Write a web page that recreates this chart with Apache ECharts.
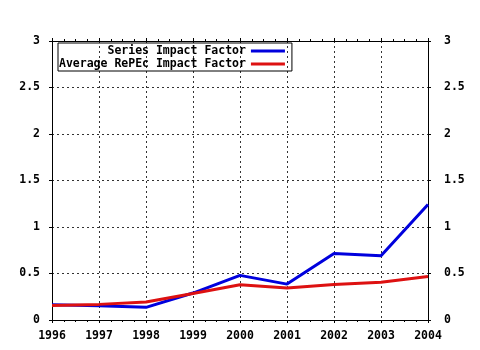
<!DOCTYPE html>
<html>
<head>
<meta charset="utf-8">
<script src="https://cdn.jsdelivr.net/npm/echarts@6/dist/echarts.min.js"></script>
<style>html,body{margin:0;padding:0;background:#fff;}#c{width:480px;height:350px;}</style>
</head>
<body>
<div id="c"></div>
<script>
var years = [1996, 1997, 1998, 1999, 2000, 2001, 2002, 2003, 2004];
var seriesImpact = [0.164, 0.153, 0.136, 0.29, 0.48, 0.386, 0.714, 0.69, 1.243];
var averageImpact = [0.157, 0.168, 0.193, 0.286, 0.379, 0.343, 0.382, 0.407, 0.468];
var seriesNames = ['Series Impact Factor', 'Average RePEc Impact Factor'];
var yTicks = [0, 0.5, 1, 1.5, 2, 2.5, 3];

var FONT = 'DejaVu Sans Mono';
var labelStyle = {fontFamily: FONT, fontWeight: 'bold', fontSize: 11.5, color: '#000'};
function pairs(vals) { return years.map(function (y, i) { return [y, vals[i]]; }); }

var chart = echarts.init(document.getElementById('c'), null, {renderer: 'canvas'});
var yCommon = {
  type: 'value', min: yTicks[0], max: yTicks[yTicks.length - 1], interval: 0.5,
  axisLine: {show: true, lineStyle: {color: '#000', width: 1}},
  axisTick: {show: true, length: 3, lineStyle: {color: '#000'}},
  axisLabel: Object.assign({formatter: function (v) { return String(v); }}, labelStyle)
};
var xCommon = {
  type: 'value', min: years[0], max: years[years.length - 1], interval: 1,
  axisLine: {show: true, onZero: false, lineStyle: {color: '#000', width: 1}},
  axisTick: {show: true, length: 3, lineStyle: {color: '#000'}},
  minorTick: {show: true, splitNumber: 4, length: 2, lineStyle: {color: '#000'}}
};
chart.setOption({
  animation: false,
  backgroundColor: '#fff',
  grid: {left: 52, right: 52, top: 41, bottom: 30, show: false},
  legend: {
    orient: 'vertical', align: 'right', left: 58, top: 43,
    icon: 'rect', itemWidth: 34, itemHeight: 3, itemGap: 1,
    padding: [2, 7, 1, 1],
    borderColor: '#000', borderWidth: 1,
    textStyle: Object.assign({lineHeight: 12}, labelStyle),
    data: seriesNames
  },
  xAxis: [
    Object.assign({}, xCommon, {
      position: 'bottom',
      axisLabel: Object.assign({margin: 10, formatter: function (v) { return String(v); }}, labelStyle),
      splitLine: {show: true, lineStyle: {color: '#333', type: [2, 3], width: 1}}
    }),
    Object.assign({}, xCommon, {
      position: 'top', axisLabel: {show: false}, splitLine: {show: false}
    })
  ],
  yAxis: [
    Object.assign({}, yCommon, {
      position: 'left',
      axisLabel: Object.assign({}, yCommon.axisLabel, {margin: 12}),
      splitLine: {show: true, lineStyle: {color: '#333', type: [2, 3], width: 1}}
    }),
    Object.assign({}, yCommon, {
      position: 'right',
      axisLabel: Object.assign({}, yCommon.axisLabel, {margin: 16}),
      splitLine: {show: false}
    })
  ],
  series: [
    {name: seriesNames[0], type: 'line', data: pairs(seriesImpact), showSymbol: false,
     color: '#0000dd', lineStyle: {width: 3, color: '#0000dd'}},
    {name: seriesNames[1], type: 'line', data: pairs(averageImpact), showSymbol: false,
     color: '#dd1111', lineStyle: {width: 3, color: '#dd1111'}}
  ]
});
</script>
</body>
</html>
